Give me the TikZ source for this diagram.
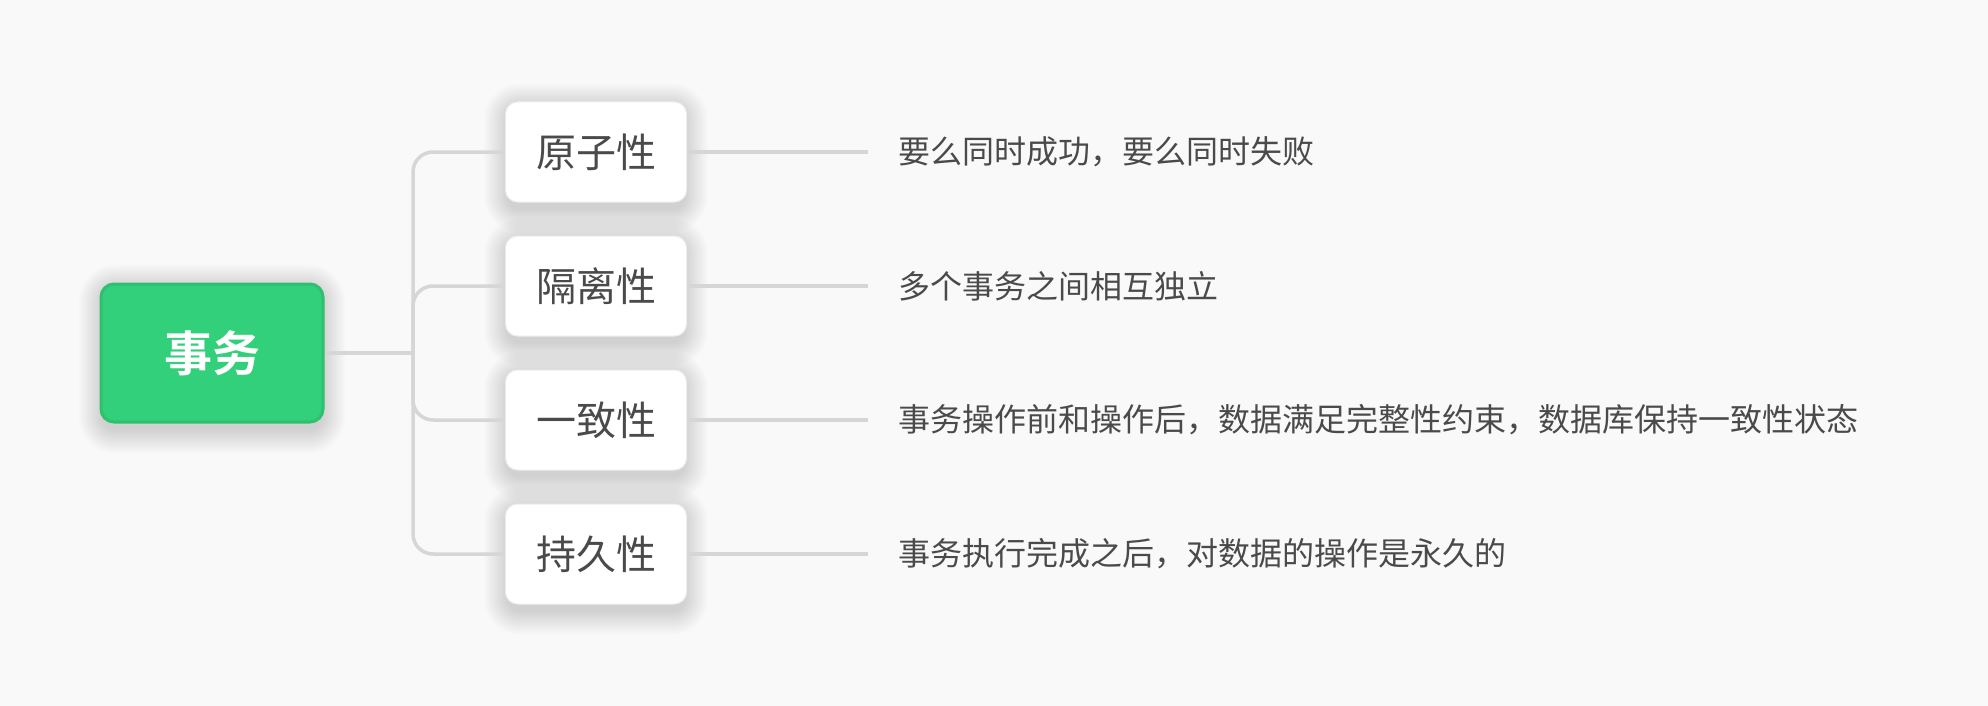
\documentclass[tikz,border=0pt]{standalone}
\usepackage{fontspec}
\setmainfont{Noto Sans CJK SC}
\newfontfamily\cjkbold{Noto Sans CJK SC Bold}
\usetikzlibrary{backgrounds}
\definecolor{bgc}{HTML}{F9F9F9}
\definecolor{rootfill}{HTML}{32D07A}
\definecolor{rootdraw}{HTML}{2EBF6F}
\definecolor{linec}{HTML}{D6D6D6}
\definecolor{txtc}{HTML}{4A4A4A}
\definecolor{childdraw}{HTML}{EDEDED}
\tikzset{
  rootbox/.style={draw=rootdraw, line width=3pt, fill=rootfill, rounded corners=13pt,
    minimum width=222pt, minimum height=138pt, inner sep=0pt,
    text=white, font=\cjkbold\fontsize{48}{56}\selectfont},
  childbox/.style={draw=childdraw, line width=1pt, fill=white, rounded corners=12pt,
    minimum width=181pt, minimum height=100pt, inner sep=0pt,
    text=txtc, font=\fontsize{40}{48}\selectfont},
  desc/.style={anchor=west, inner sep=0pt, text=txtc, font=\fontsize{32}{38}\selectfont},
  conn/.style={draw=linec, line width=3.5pt},
  shadowlayer/.style={fill=black, opacity=0.0075},
}
\newcommand{\softshadow}[2]{%
  \foreach \k in {1,...,20}{
    \fill[shadowlayer, rounded corners={#2+\k*1.2pt}]
      ([shift={(-\k*1.2+3,\k*1.2+6)}]#1.south west) rectangle
      ([shift={(\k*1.2-3,-\k*1.2+6)}]#1.north east);
  }}
\begin{document}
\begin{tikzpicture}[x=1pt,y=-1pt]
\begin{scope}[on background layer]
\fill[bgc] (0,0) rectangle (1988,706);
\end{scope}
\useasboundingbox (0,0) rectangle (1988,706);

\node[rootbox] (root) at (212,353) {事务};
\node[childbox] (c1) at (596,152) {原子性};
\node[childbox] (c2) at (596,286) {隔离性};
\node[childbox] (c3) at (596,420) {一致性};
\node[childbox] (c4) at (596,554) {持久性};

\begin{scope}[on background layer]
\softshadow{root}{13pt}
\softshadow{c1}{12pt}
\softshadow{c2}{12pt}
\softshadow{c3}{12pt}
\softshadow{c4}{12pt}
\end{scope}

\coordinate (jn) at (413,353);
\coordinate (e1) at (868,152);
\coordinate (e2) at (868,286);
\coordinate (e3) at (868,420);
\coordinate (e4) at (868,554);

\begin{scope}[on background layer]
\draw[conn] (root.east) -- (jn);
\foreach \c in {c1,c2,c3,c4}{
  \draw[conn, rounded corners=20pt] (jn) |- (\c.west);
}
\draw[conn] (c1.east) -- (e1);
\draw[conn] (c2.east) -- (e2);
\draw[conn] (c3.east) -- (e3);
\draw[conn] (c4.east) -- (e4);
\end{scope}

\node[desc] (d1) at (898,152) {要么同时成功，要么同时失败};
\node[desc] (d2) at (898,286) {多个事务之间相互独立};
\node[desc] (d3) at (898,420) {事务操作前和操作后，数据满足完整性约束，数据库保持一致性状态};
\node[desc] (d4) at (898,554) {事务执行完成之后，对数据的操作是永久的};
\end{tikzpicture}
\end{document}
